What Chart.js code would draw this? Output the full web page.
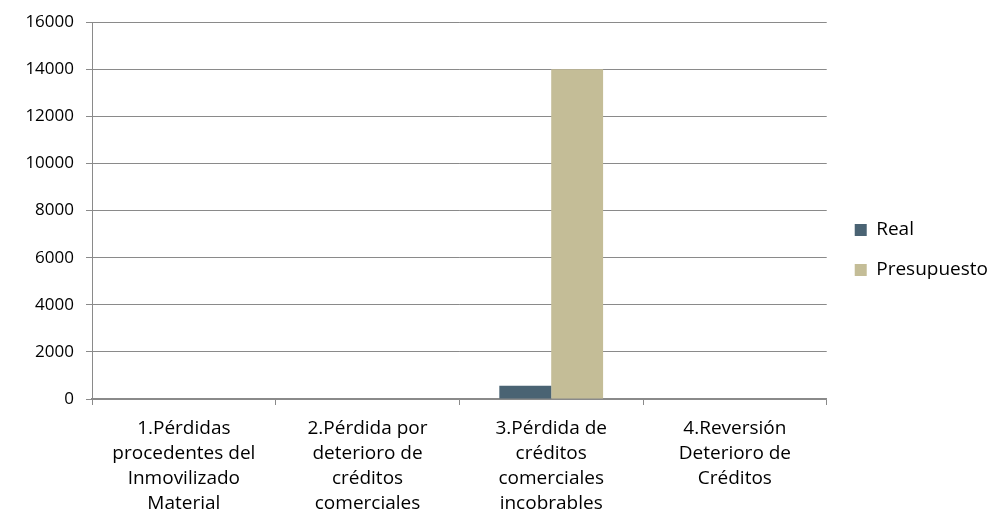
<!DOCTYPE html>
<html><head><meta charset="utf-8">
<script src="https://cdn.jsdelivr.net/npm/chart.js@4/dist/chart.umd.min.js"></script>
<style>html,body{margin:0;padding:0;background:#fff;}#wrap{width:992px;height:520px;}</style>
</head><body><div id="wrap"><canvas id="c" width="992" height="520"></canvas></div>
<script>
const categories = [
  ["1.Pérdidas","procedentes del","Inmovilizado","Material"],
  ["2.Pérdida por","deterioro de","créditos","comerciales"],
  ["3.Pérdida de","créditos","comerciales","incobrables"],
  ["4.Reversión","Deterioro de","Créditos"]
];
const realValues = [0, 0, 560, 0];
const presupuestoValues = [0, 0, 14000, 0];
const yTicks = [0, 2000, 4000, 6000, 8000, 10000, 12000, 14000, 16000];

const FONT = "'Open Sans', 'Liberation Sans', sans-serif";
Chart.defaults.font.family = FONT;
Chart.defaults.color = '#000';

const legendShift = {
  id: 'legendShift',
  afterLayout(chart) {
    const lg = chart.legend;
    if (!lg) return;
    lg.top -= 16; lg.bottom -= 16;
    lg.left += 7; lg.right += 7;
  }
};

new Chart(document.getElementById('c'), {
  type: 'bar',
  data: {
    labels: categories,
    datasets: [
      {label: 'Real', data: realValues, backgroundColor: '#4A6373', categoryPercentage: 0.565, barPercentage: 1.0},
      {label: 'Presupuesto', data: presupuestoValues, backgroundColor: '#C4BD97', categoryPercentage: 0.565, barPercentage: 1.0}
    ]
  },
  plugins: [legendShift],
  options: {
    responsive: false,
    animation: false,
    devicePixelRatio: 1,
    layout: {padding: {top: 12, left: 20, right: 1, bottom: 0}},
    plugins: {
      tooltip: {enabled: false},
      legend: {
        position: 'right',
        align: 'center',
        labels: {boxWidth: 12, boxHeight: 12, padding: 21, font: {size: 19, family: FONT}, color: '#000'}
      }
    },
    scales: {
      x: {
        grid: {offset: true, drawOnChartArea: false, drawTicks: true, tickLength: 6, color: '#8a8a8a'},
        border: {color: '#8a8a8a', width: 1.5},
        ticks: {maxRotation: 0, autoSkip: false, font: {size: 19, family: FONT, lineHeight: '25px'}, color: '#000', padding: 11},
        afterFit: s => { s.height = 121; }
      },
      y: {
        min: 0, max: 16000,
        afterBuildTicks: s => { s.ticks = yTicks.map(v => ({value: v})); },
        grid: {color: '#8a8a8a', tickLength: 6, lineWidth: 1},
        border: {color: '#8a8a8a', width: 1},
        ticks: {font: {size: 17, family: FONT}, color: '#000', padding: 12, callback: v => String(v)},
        afterFit: s => { s.width = 72; }
      }
    }
  }
});
</script></body></html>
